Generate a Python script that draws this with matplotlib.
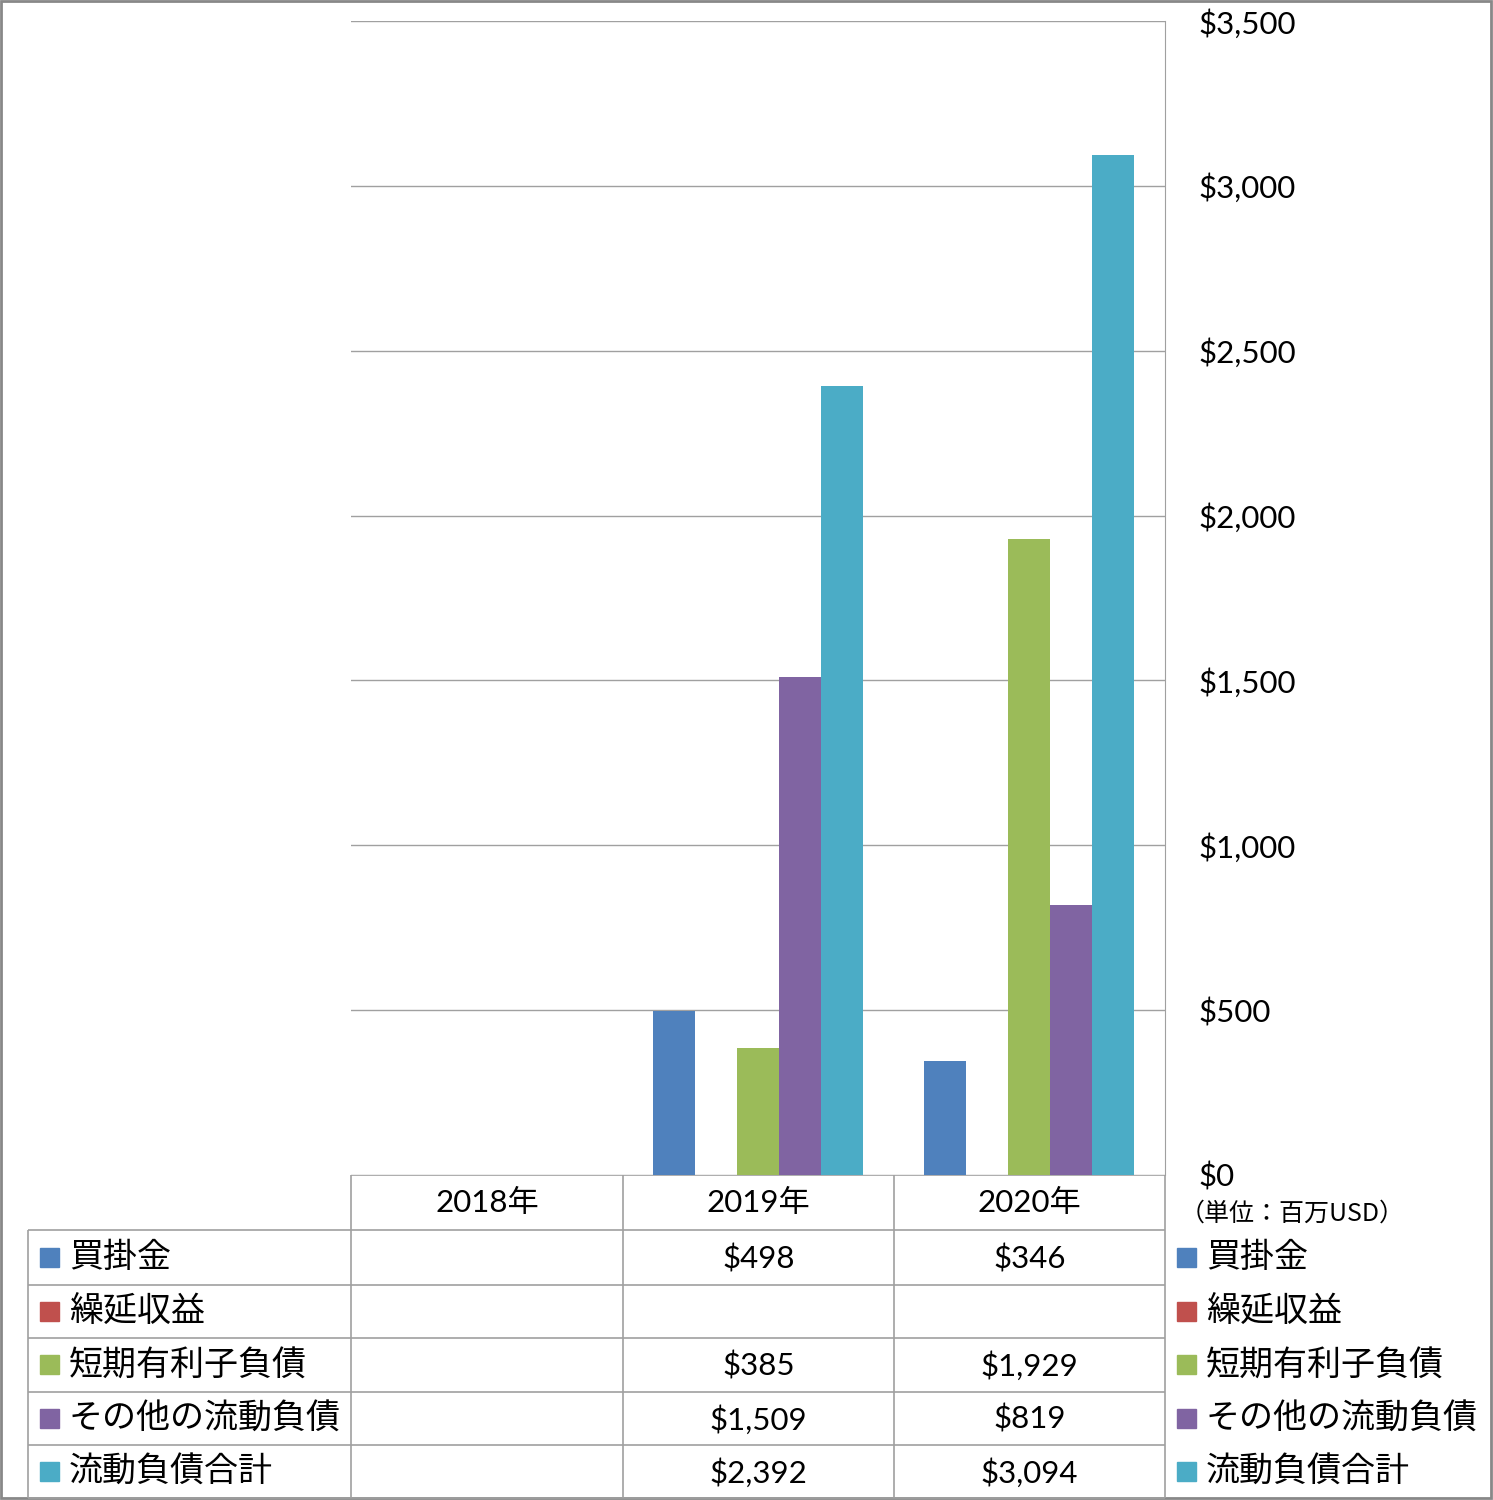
import numpy as np
import matplotlib.pyplot as plt
from matplotlib.ticker import FuncFormatter

years = ['2018年', '2019年', '2020年']
series_names = ['買掛金', '繰延収益', '短期有利子負債', 'その他の流動負債', '流動負債合計']
accounts_payable = [np.nan, 498, 346]
deferred_revenue = [np.nan, np.nan, np.nan]
short_term_debt = [np.nan, 385, 1929]
other_current = [np.nan, 1509, 819]
total_current = [np.nan, 2392, 3094]
colors = ['#4F81BD', '#C0504D', '#9BBB59', '#8064A2', '#4BACC6']
unit_label = '（単位：百万USD）'

series = [accounts_payable, deferred_revenue, short_term_debt, other_current, total_current]

W, H = 1493, 1500
num_font = ['Lato', 'Noto Sans CJK JP']
cjk_font = ['Noto Sans CJK JP', 'DejaVu Sans']
grid_c = '#a0a0a0'

fig = plt.figure(figsize=(W / 100, H / 100), dpi=100)

# plot area in pixel terms
left, right, top, bottom = 351, 1165, 21, 1175
ax = fig.add_axes([left / W, 1 - bottom / H, (right - left) / W, (bottom - top) / H])

x = np.arange(len(years))
bw = 42 / ((right - left) / 3)
for i, (vals, c) in enumerate(zip(series, colors)):
    ax.bar(x + (i - 2) * bw, vals, bw, color=c, label=series_names[i])

ax.set_xlim(-0.5, 2.5)
ax.set_ylim(0, 3500)
ax.set_yticks(np.arange(0, 3501, 500))
ax.yaxis.tick_right()
ax.yaxis.set_major_formatter(FuncFormatter(lambda v, p: f'${v:,.0f}'))
ax.tick_params(axis='y', length=0, pad=24, labelsize=22.5)
for lab in ax.get_yticklabels():
    lab.set_family(num_font)
ax.set_xticks([])
ax.grid(axis='y', color=grid_c, linewidth=1)
ax.set_axisbelow(True)
for s in ['left', 'top', 'bottom']:
    ax.spines[s].set_visible(False)
ax.spines['right'].set_color(grid_c)

# overlay in pixel coords for the data table and legends
ov = fig.add_axes([0, 0, 1, 1], zorder=-1)
ov.set_xlim(0, W)
ov.set_ylim(H, 0)
ov.axis('off')

col_x = [351, 623, 894, 1165]
row_y = [1175, 1230, 1285, 1338, 1392, 1445, 1498]
lw = 1.2
ov.hlines(row_y[0], col_x[0], col_x[-1], color=grid_c, lw=lw)
ov.hlines(row_y[1:], 28, col_x[-1], color=grid_c, lw=lw)
ov.vlines(col_x, row_y[0], row_y[-1], color=grid_c, lw=lw)
ov.vlines(28, row_y[1], row_y[-1], color=grid_c, lw=lw)

for j, yr in enumerate(years):
    cx = (col_x[j] + col_x[j + 1]) / 2
    ov.text(cx, (row_y[0] + row_y[1]) / 2, yr, ha='center', va='center',
            fontsize=22.5, family=num_font)

for i, name in enumerate(series_names):
    cy = (row_y[i + 1] + row_y[i + 2]) / 2
    ov.add_patch(plt.Rectangle((40, cy - 10), 19, 19, color=colors[i]))
    ov.text(69, cy, name, ha='left', va='center', fontsize=24.5, family=cjk_font)
    ov.add_patch(plt.Rectangle((1177, cy - 10), 19, 19, color=colors[i]))
    ov.text(1206, cy, name, ha='left', va='center', fontsize=24.5, family=cjk_font)
    for j, v in enumerate(series[i]):
        if not np.isnan(v):
            cx = (col_x[j] + col_x[j + 1]) / 2
            ov.text(cx, cy + 1, f'${v:,.0f}', ha='center', va='center',
                    fontsize=22.5, family=num_font)

ov.text(1180, 1214, unit_label, ha='left', va='center', fontsize=18, family=cjk_font)

# outer border
ov.add_patch(plt.Rectangle((1, 1), W - 3, H - 3, fill=False, edgecolor='#888888', lw=2))

fig.savefig('out.png', dpi=100)
